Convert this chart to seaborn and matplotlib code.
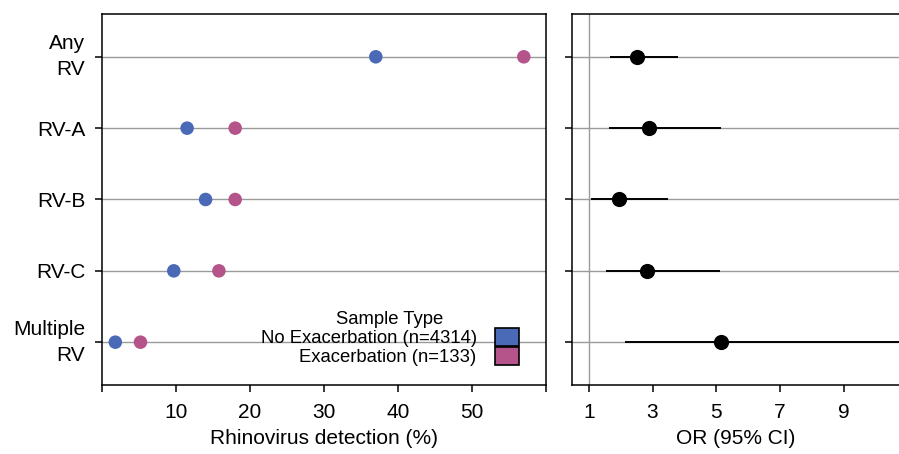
import numpy as np
import pandas as pd
import matplotlib
matplotlib.use("Agg")
import matplotlib.pyplot as plt
from matplotlib.patches import Patch
import seaborn as sns

# data
types = ["Any\nRV", "RV-A", "RV-B", "RV-C", "Multiple\nRV"]
no_exac = [37.0, 11.5, 14.0, 9.7, 1.8]
exac = [57.0, 18.0, 18.0, 15.8, 5.2]
groups = ["No Exacerbation (n=4314)", "Exacerbation (n=133)"]
odds_ratio = [2.5, 2.9, 1.95, 2.82, 5.15]
ci_low = [1.65, 1.62, 1.08, 1.55, 2.12]
ci_high = [3.8, 5.15, 3.5, 5.12, 12.5]

blue = "#4a69b6"
pink = "#b5548a"

sns.set_style("ticks")
plt.rcParams["font.family"] = ["Liberation Sans", "DejaVu Sans"]
plt.rcParams["text.color"] = "black"
plt.rcParams["axes.labelcolor"] = "black"

long = pd.DataFrame({
    "type": types * 2,
    "pct": no_exac + exac,
    "group": [groups[0]] * len(types) + [groups[1]] * len(types),
})
long["y"] = long["type"].map({t: i for i, t in enumerate(types)})

orr = pd.DataFrame({"type": types, "or": odds_ratio, "lo": ci_low, "hi": ci_high})
orr["y"] = range(len(types))

W, H = 899, 454
fig = plt.figure(figsize=(W / 100, H / 100), dpi=100)
ax1 = fig.add_axes([102 / W, (H - 385) / H, (546 - 102) / W, (385 - 14) / H])
ax2 = fig.add_axes([572 / W, (H - 385) / H, (W - 572) / W, (385 - 14) / H])

grid_kw = dict(color="#9a9a9a", lw=1.0, zorder=0)

# --- left: detection dots
for i in range(len(types)):
    ax1.axhline(i, **grid_kw)
sns.scatterplot(data=long, x="pct", y="y", hue="group", palette=[blue, pink],
                s=95, linewidth=0, legend=False, ax=ax1, zorder=3)
ax1.set_ylim(4.6, -0.6)
ax1.set_xlim(0, 60)
ax1.set_xticks(range(0, 61, 10))
ax1.set_xticklabels(["", "10", "20", "30", "40", "50", ""])
ax1.set_yticks(range(len(types)))
ax1.set_yticklabels(types, linespacing=1.45)
for lab in ax1.get_yticklabels():
    if "\n" in lab.get_text():
        lab.set_va("center")
ax1.set_xlabel("Rhinovirus detection (%)", fontsize=15, labelpad=5)
ax1.set_ylabel("")

handles = [Patch(facecolor=blue, edgecolor="black", lw=1.2),
           Patch(facecolor=pink, edgecolor="black", lw=1.2)]
leg = ax1.legend(handles, groups, title="Sample Type", loc="lower right",
                 bbox_to_anchor=(0.955, 0.03), frameon=False, markerfirst=False,
                 fontsize=13.3, title_fontsize=13.3, handlelength=1.27, handleheight=1.12,
                 labelspacing=0.0, handletextpad=1.0, borderaxespad=0)

# --- right: odds ratios with CI
for i in range(len(types)):
    ax2.axhline(i, **grid_kw)
ax2.axvline(1, color="#9a9a9a", lw=1.0, zorder=0)
ax2.hlines(orr["y"], orr["lo"], orr["hi"], color="black", lw=1.4, zorder=2)
sns.scatterplot(data=orr, x="or", y="y", color="black", s=120, linewidth=0,
                ax=ax2, zorder=3)
ax2.set_ylim(4.6, -0.6)
ax2.set_xlim(0.47, 10.74)
ax2.set_xticks([1, 3, 5, 7, 9])
ax2.set_yticks(range(len(types)))
ax2.set_yticklabels([])
ax2.set_xlabel("OR (95% CI)", fontsize=15, labelpad=5)
ax2.set_ylabel("")
ax2.spines["right"].set_visible(False)

for ax in (ax1, ax2):
    for sp in ax.spines.values():
        sp.set_linewidth(1.1)
        sp.set_color("black")
    ax.tick_params(axis="both", labelsize=15, length=5, width=1.1,
                   color="black", labelcolor="black")
    ax.tick_params(axis="x", pad=8)
    ax.tick_params(axis="y", pad=7)

fig.savefig("out.png", dpi=100)
